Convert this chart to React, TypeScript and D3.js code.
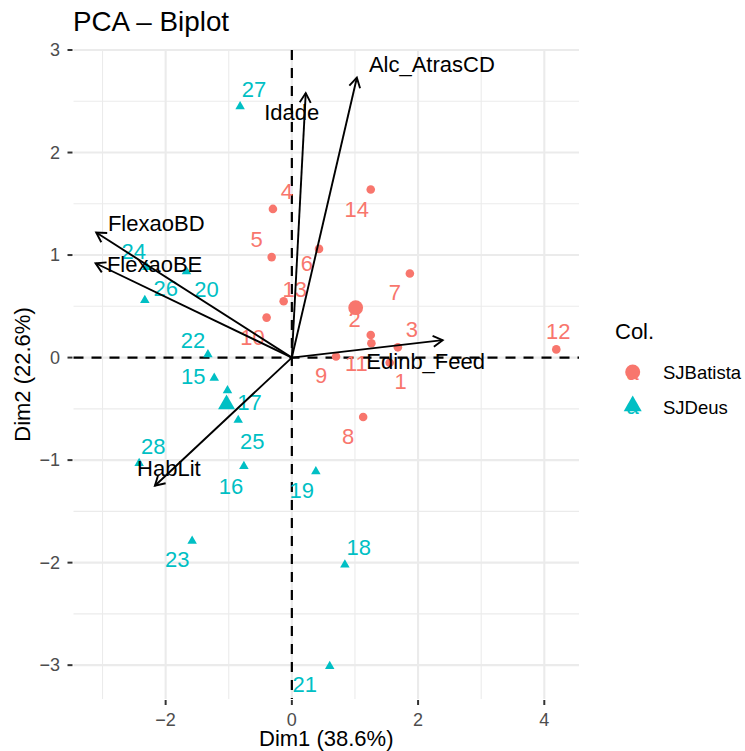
import React, { useEffect, useRef } from "react";
import * as d3 from "d3";

const red = "#F8766D";
const cyan = "#00BFC4";
const font = "'Liberation Sans', Arial, Helvetica, sans-serif";

// individuals, group SJBatista
const batistaIds = ["1", "2", "3", "4", "5", "6", "7", "8", "9", "10", "11", "12", "13", "14"];
const batistaDim1 = [1.55, 1.25, 1.68, -0.3, -0.32, 0.43, 1.87, 1.13, 0.7, -0.4, 1.26, 4.19, -0.13, 1.25];
const batistaDim2 = [-0.05, 0.22, 0.1, 1.45, 0.98, 1.06, 0.82, -0.58, 0.01, 0.39, 0.14, 0.08, 0.55, 1.64];

// individuals, group SJDeus
const deusIds = ["15", "16", "17", "18", "19", "20", "21", "22", "23", "24", "25", "26", "27", "28"];
const deusDim1 = [-1.23, -0.76, -1.02, 0.84, 0.38, -1.67, 0.6, -1.33, -1.58, -2.3, -0.85, -2.33, -0.82, -2.42];
const deusDim2 = [-0.2, -1.06, -0.32, -2.02, -1.11, 0.84, -3.01, 0.03, -1.79, 0.88, -0.61, 0.56, 2.45, -1.03];

// variables (arrows)
const varNames = ["Idade", "Alc_AtrasCD", "FlexaoBD", "FlexaoBE", "Edinb_Feed", "HabLit"];
const varDim1 = [0.22, 1.03, -3.1, -3.11, 2.39, -2.17];
const varDim2 = [2.58, 2.73, 1.22, 0.92, 0.17, -1.25];

const groups = ["SJBatista", "SJDeus"];
const xTicks = [-2, 0, 2, 4];
const yTicks = [-3, -2, -1, 0, 1, 2, 3];

// repelled label nudges (px)
const batistaLabelDx = [11, -16, 14, 14, -15, -12, -15, -15, -15, -14, -15, 2, 11, -14];
const batistaLabelDy = [19, -16, -18, -17, -18, 15, 19, 19, 19, 20, 20, -18, -12, 20];
const deusLabelDx = [-21, -13, 22, 14, -14, 20, -25, -15, -15, -13, 14, 21, 14, 14];
const deusLabelDy = [-2, 20, 12, -17, 19, 18, 18, -14, 18, -16, 21, -12, -17, -17];
const varLabelDx = [-14, 75, 60, 59, -17, 14];
const varLabelDy = [19, -13, -9, 1, 21, -17];

const triangle = (cx: number, cy: number, w: number) => {
  const r = w / Math.sqrt(3);
  return `M${cx},${cy - r}L${cx + w / 2},${cy + r / 2}L${cx - w / 2},${cy + r / 2}Z`;
};

const App = () => {
  const ref = useRef<SVGSVGElement>(null);
  const width = 745;
  const height = 751;
  const left = 73.5;
  const right = 579;
  const top = 50;
  const bottom = 699;

  useEffect(() => {
    const svg = d3.select(ref.current);
    svg.selectAll("*").remove();

    const x = d3.scaleLinear().domain([-3.46, 4.55]).range([left, right]);
    const y = d3.scaleLinear().domain([-3.33, 3.0]).range([bottom, top]);

    // grid
    const grid = svg.append("g");
    [-3, -1, 1, 3].forEach((v) =>
      grid.append("line").attr("x1", x(v)).attr("x2", x(v)).attr("y1", top).attr("y2", bottom)
        .attr("stroke", "#EBEBEB").attr("stroke-width", 1.1)
    );
    [-2.5, -1.5, -0.5, 0.5, 1.5, 2.5].forEach((v) =>
      grid.append("line").attr("x1", left).attr("x2", right).attr("y1", y(v)).attr("y2", y(v))
        .attr("stroke", "#EBEBEB").attr("stroke-width", 1.1)
    );
    xTicks.forEach((v) =>
      grid.append("line").attr("x1", x(v)).attr("x2", x(v)).attr("y1", top).attr("y2", bottom)
        .attr("stroke", "#EBEBEB").attr("stroke-width", 2.1)
    );
    yTicks.forEach((v) =>
      grid.append("line").attr("x1", left).attr("x2", right).attr("y1", y(v)).attr("y2", y(v))
        .attr("stroke", "#EBEBEB").attr("stroke-width", 2.1)
    );

    // axes ticks + labels
    xTicks.forEach((v) => {
      svg.append("line").attr("x1", x(v)).attr("x2", x(v)).attr("y1", bottom + 1).attr("y2", bottom + 6)
        .attr("stroke", "#333").attr("stroke-width", 2);
      svg.append("text").attr("x", x(v)).attr("y", 720).attr("text-anchor", "middle")
        .attr("dominant-baseline", "central").attr("font-size", 18).attr("fill", "#4D4D4D")
        .text(v < 0 ? "\u2212" + Math.abs(v) : String(v));
    });
    yTicks.forEach((v) => {
      svg.append("line").attr("x1", left - 6).attr("x2", left - 1).attr("y1", y(v)).attr("y2", y(v))
        .attr("stroke", "#333").attr("stroke-width", 2);
      svg.append("text").attr("x", 60).attr("y", y(v)).attr("text-anchor", "end")
        .attr("dominant-baseline", "central").attr("font-size", 18).attr("fill", "#4D4D4D")
        .text(v < 0 ? "\u2212" + Math.abs(v) : String(v));
    });

    // reference lines
    svg.append("line").attr("x1", left).attr("x2", right).attr("y1", y(0)).attr("y2", y(0))
      .attr("stroke", "#000").attr("stroke-width", 2.2).attr("stroke-dasharray", "10 8");
    svg.append("line").attr("x1", x(0)).attr("x2", x(0)).attr("y1", top).attr("y2", bottom)
      .attr("stroke", "#000").attr("stroke-width", 2.2).attr("stroke-dasharray", "10 8");

    // individuals
    batistaIds.forEach((id, i) => {
      svg.append("circle").attr("cx", x(batistaDim1[i])).attr("cy", y(batistaDim2[i])).attr("r", 4.3).attr("fill", red);
    });
    deusIds.forEach((id, i) => {
      svg.append("path").attr("d", triangle(x(deusDim1[i]), y(deusDim2[i]), 9.5)).attr("fill", cyan);
    });
    batistaIds.forEach((id, i) => {
      svg.append("text").attr("x", x(batistaDim1[i]) + batistaLabelDx[i]).attr("y", y(batistaDim2[i]) + batistaLabelDy[i])
        .attr("text-anchor", "middle").attr("dominant-baseline", "central").attr("font-size", 22).attr("fill", red).text(id);
    });
    deusIds.forEach((id, i) => {
      svg.append("text").attr("x", x(deusDim1[i]) + deusLabelDx[i]).attr("y", y(deusDim2[i]) + deusLabelDy[i])
        .attr("text-anchor", "middle").attr("dominant-baseline", "central").attr("font-size", 22).attr("fill", cyan).text(id);
    });

    // group means
    const bx = d3.mean(batistaDim1) as number;
    const by = d3.mean(batistaDim2) as number;
    const dx = d3.mean(deusDim1) as number;
    const dy = d3.mean(deusDim2) as number;
    svg.append("circle").attr("cx", x(bx)).attr("cy", y(by)).attr("r", 7.4).attr("fill", red);
    svg.append("path").attr("d", triangle(x(dx), y(dy), 17)).attr("fill", cyan);

    // variable arrows
    varNames.forEach((name, i) => {
      const x0 = x(0);
      const y0 = y(0);
      const x1 = x(varDim1[i]);
      const y1 = y(varDim2[i]);
      const ang = Math.atan2(y1 - y0, x1 - x0);
      const len = 11;
      const a1 = ang + Math.PI - Math.PI / 6;
      const a2 = ang + Math.PI + Math.PI / 6;
      svg.append("line").attr("x1", x0).attr("y1", y0).attr("x2", x1).attr("y2", y1)
        .attr("stroke", "#000").attr("stroke-width", 1.9);
      svg.append("path")
        .attr("d", `M${x1 + len * Math.cos(a1)},${y1 + len * Math.sin(a1)}L${x1},${y1}L${x1 + len * Math.cos(a2)},${y1 + len * Math.sin(a2)}`)
        .attr("fill", "none").attr("stroke", "#000").attr("stroke-width", 1.9);
    });
    varNames.forEach((name, i) => {
      svg.append("text").attr("x", x(varDim1[i]) + varLabelDx[i]).attr("y", y(varDim2[i]) + varLabelDy[i])
        .attr("text-anchor", "middle").attr("dominant-baseline", "central").attr("font-size", 22).attr("fill", "#000").text(name);
    });

    // titles
    svg.append("text").attr("x", 73).attr("y", 31).attr("font-size", 27.8).attr("fill", "#000").text("PCA \u2013 Biplot");
    svg.append("text").attr("x", (left + right) / 2).attr("y", 738).attr("text-anchor", "middle")
      .attr("dominant-baseline", "central").attr("font-size", 22).attr("fill", "#000").text("Dim1 (38.6%)");
    svg.append("text").attr("transform", `translate(22,${(top + bottom) / 2}) rotate(-90)`).attr("text-anchor", "middle")
      .attr("dominant-baseline", "central").attr("font-size", 22).attr("fill", "#000").text("Dim2 (22.6%)");

    // legend
    svg.append("text").attr("x", 615).attr("y", 339).attr("font-size", 22).attr("fill", "#000").text("Col.");
    const keyY = [372, 406];
    const keyColors = [red, cyan];
    groups.forEach((g, i) => {
      svg.append("text").attr("x", 632.7).attr("y", keyY[i]).attr("text-anchor", "middle").attr("dominant-baseline", "central")
        .attr("font-size", 22).attr("fill", keyColors[i]).text("a");
      if (i === 0) {
        svg.append("circle").attr("cx", 632.7).attr("cy", keyY[i]).attr("r", 7.5).attr("fill", keyColors[i]);
      } else {
        svg.append("path").attr("d", triangle(632.7, keyY[i], 18)).attr("fill", keyColors[i]);
      }
      svg.append("text").attr("x", 663).attr("y", keyY[i] + (i === 1 ? 1.5 : 0)).attr("dominant-baseline", "central")
        .attr("font-size", 18.5).attr("fill", "#000").text(g);
    });
  }, []);

  return (
    <svg
      ref={ref}
      width={width}
      height={height}
      style={{ position: "absolute", left: 0, top: 0, background: "#fff", fontFamily: font }}
    />
  );
};

export default App;
